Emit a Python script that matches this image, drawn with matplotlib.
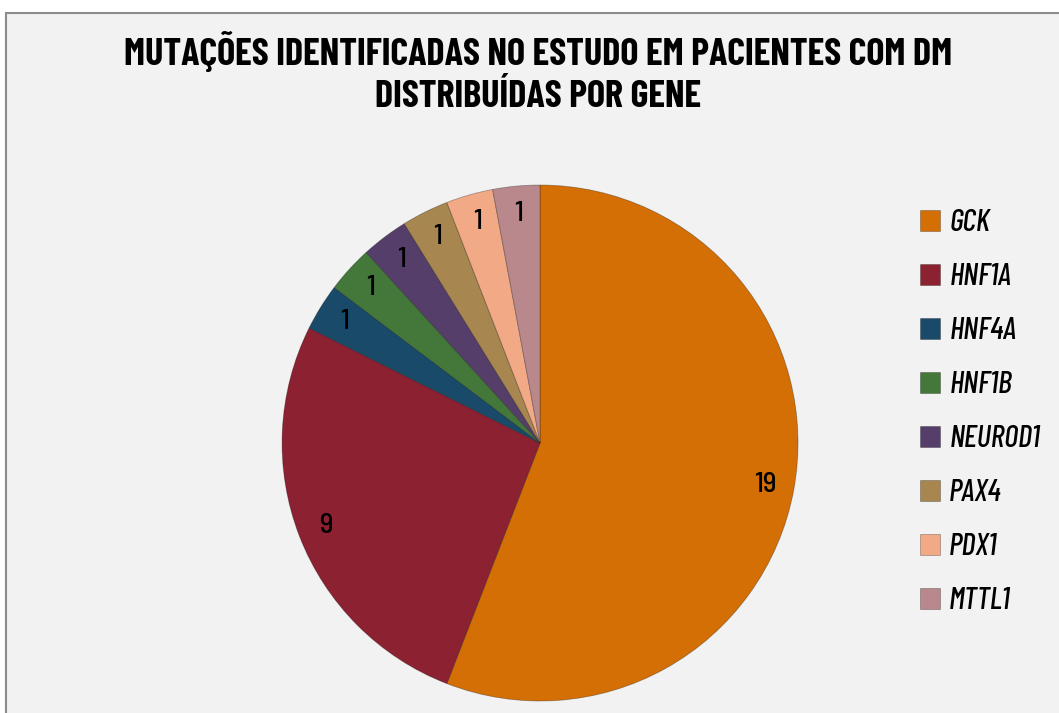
import matplotlib.pyplot as plt
from matplotlib.patches import Rectangle

genes = ["GCK", "HNF1A", "HNF4A", "HNF1B", "NEUROD1", "PAX4", "PDX1", "MTTL1"]
counts = [19, 9, 1, 1, 1, 1, 1, 1]
colors = ["#d46f06", "#8b2131", "#1a4a6a", "#44773a", "#553f6a", "#a8864f", "#f2a985", "#b9888c"]

title = "MUTAÇÕES IDENTIFICADAS NO ESTUDO EM PACIENTES COM DM\nDISTRIBUÍDAS POR GENE"

plt.rcParams['font.family'] = ['Barlow Semi Condensed', 'DejaVu Sans']

fig = plt.figure(figsize=(10.59, 7.13), dpi=100)
fig.patch.set_facecolor("white")

# chart area frame
fig.patches.append(Rectangle((6 / 1059, -0.1), 1.2, (713 - 13) / 713 + 0.1,
                             transform=fig.transFigure, facecolor="#f2f2f2",
                             edgecolor="#8c8c8c", linewidth=1.5, zorder=-1))

fig.text(0.508, 0.898, title, ha="center", va="center", fontsize=27.5,
         fontweight="bold", family=["Barlow Condensed", "DejaVu Sans"],
         linespacing=1.3)

ax = fig.add_axes([0.2663, 0.0168, 0.4873, 0.7237])
total = sum(counts)
wedges, texts, autotexts = ax.pie(
    counts, colors=colors, startangle=90, counterclock=False, radius=1,
    autopct=lambda p: "%d" % round(p * total / 100), pctdistance=0.89,
    wedgeprops=dict(edgecolor=(0, 0, 0, 0.3), linewidth=0.6),
    textprops=dict(fontsize=21, fontweight=500))
ax.set_xlim(-1, 1)
ax.set_ylim(-1, 1)
ax.set_aspect("equal")
ax.axis("off")

leg = fig.legend(wedges, genes, loc="upper left", bbox_to_anchor=(0.843, 0.745),
                 frameon=False,
                 prop=dict(size=22, style="italic", weight=500,
                           family=["Barlow Condensed", "DejaVu Sans"]),
                 handlelength=0.65, handleheight=0.65, handletextpad=0.3,
                 labelspacing=0.85)

fig.savefig("out.png", dpi=100, facecolor=fig.get_facecolor())
